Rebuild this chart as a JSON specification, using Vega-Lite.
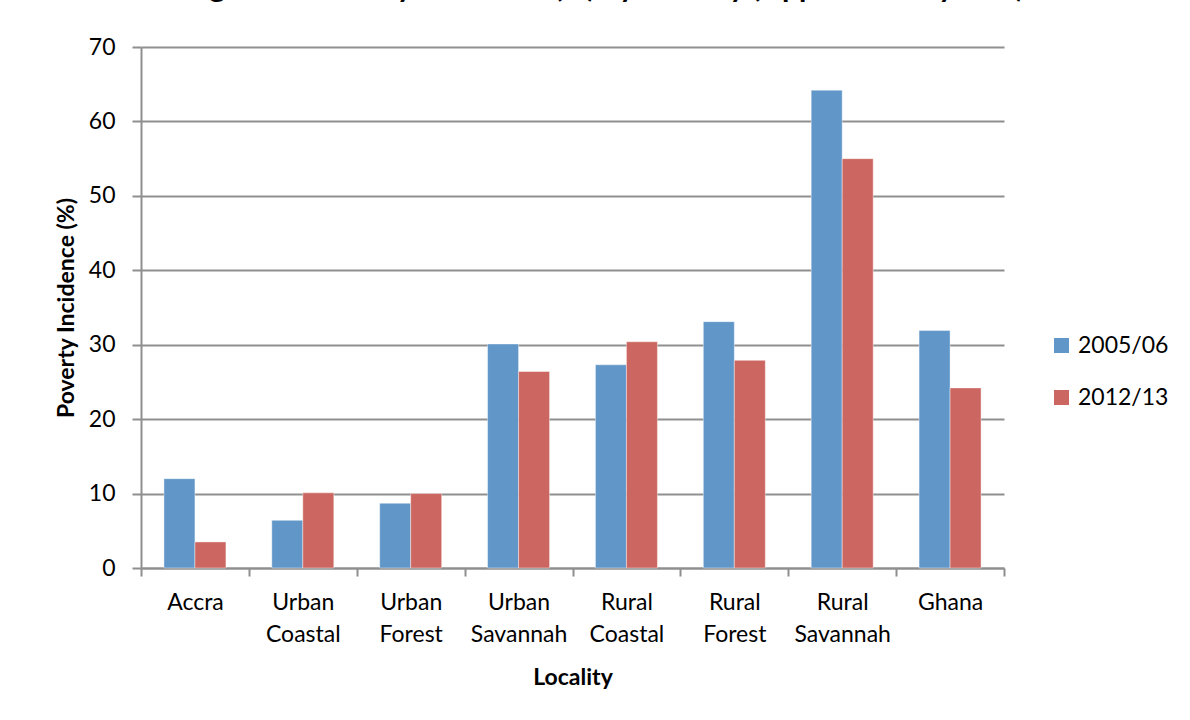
{
  "$schema": "https://vega.github.io/schema/vega-lite/v6.json",
  "autosize": "none",
  "width": 863,
  "height": 521,
  "padding": {"left": 141, "top": 47, "right": 186, "bottom": 152},
  "background": "white",
  "title": {
    "text": "Figure 1: Poverty Incidence (%) by Locality (Upper Poverty Line)",
    "anchor": "middle",
    "frame": "group",
    "baseline": "alphabetic",
    "offset": 9,
    "dx": 32,
    "font": "Lato",
    "fontSize": 30,
    "fontWeight": "bold",
    "color": "black"
  },
  "data": {
    "values": [
      {"locality": "Accra", "year": "2005/06", "value": 12.0},
      {"locality": "Accra", "year": "2012/13", "value": 3.5},
      {"locality": "Urban Coastal", "year": "2005/06", "value": 6.4},
      {"locality": "Urban Coastal", "year": "2012/13", "value": 10.1},
      {"locality": "Urban Forest", "year": "2005/06", "value": 8.7},
      {"locality": "Urban Forest", "year": "2012/13", "value": 10.0},
      {"locality": "Urban Savannah", "year": "2005/06", "value": 30.1},
      {"locality": "Urban Savannah", "year": "2012/13", "value": 26.4},
      {"locality": "Rural Coastal", "year": "2005/06", "value": 27.3},
      {"locality": "Rural Coastal", "year": "2012/13", "value": 30.4},
      {"locality": "Rural Forest", "year": "2005/06", "value": 33.1},
      {"locality": "Rural Forest", "year": "2012/13", "value": 27.9},
      {"locality": "Rural Savannah", "year": "2005/06", "value": 64.2},
      {"locality": "Rural Savannah", "year": "2012/13", "value": 55.0},
      {"locality": "Ghana", "year": "2005/06", "value": 31.9},
      {"locality": "Ghana", "year": "2012/13", "value": 24.2}
    ]
  },
  "mark": {"type": "bar", "stroke": "white", "strokeWidth": 0.7, "strokeOpacity": 0.6},
  "encoding": {
    "x": {
      "field": "locality",
      "type": "nominal",
      "sort": null,
      "scale": {"paddingInner": 0, "paddingOuter": 0},
      "axis": {
        "title": "Locality",
        "labelAngle": 0,
        "labelExpr": "split(datum.label, ' ')",
        "labelLineHeight": 32,
        "labelFont": "Lato",
        "labelFontSize": 23,
        "labelColor": "black",
        "labelBaseline": "top",
        "labelPadding": 15,
        "tickBand": "extent",
        "tickSize": 8,
        "tickColor": "#8F8F8F",
        "tickWidth": 2,
        "domainColor": "#8F8F8F",
        "domainWidth": 2,
        "grid": false,
        "titleFont": "Lato",
        "titleFontSize": 23,
        "titleFontWeight": "bold",
        "titleColor": "black",
        "titlePadding": 20
      }
    },
    "xOffset": {
      "field": "year",
      "type": "nominal",
      "scale": {"paddingInner": 0, "paddingOuter": 0.74}
    },
    "y": {
      "field": "value",
      "type": "quantitative",
      "scale": {"domain": [0, 70], "nice": false},
      "axis": {
        "title": "Poverty Incidence (%)",
        "values": [0, 10, 20, 30, 40, 50, 60, 70],
        "labelFont": "Lato",
        "labelFontSize": 23,
        "labelColor": "black",
        "labelPadding": 17,
        "tickSize": 9,
        "tickColor": "#8F8F8F",
        "tickWidth": 2,
        "domainColor": "#8F8F8F",
        "domainWidth": 2,
        "grid": true,
        "gridColor": "#8F8F8F",
        "gridWidth": 2,
        "titleFont": "Lato",
        "titleFontSize": 23,
        "titleFontWeight": "bold",
        "titleColor": "black",
        "titlePadding": 10
      }
    },
    "color": {
      "field": "year",
      "type": "nominal",
      "scale": {"domain": ["2005/06", "2012/13"], "range": ["#6096C8", "#CC6660"]},
      "legend": {
        "title": null,
        "orient": "none",
        "legendX": 909,
        "legendY": 287,
        "symbolType": "square",
        "symbolSize": 225,
        "symbolStrokeWidth": 0,
        "labelFont": "Lato",
        "labelFontSize": 23,
        "labelColor": "black",
        "labelOffset": 5,
        "rowPadding": 28
      }
    }
  },
  "config": {"view": {"stroke": null}}
}
